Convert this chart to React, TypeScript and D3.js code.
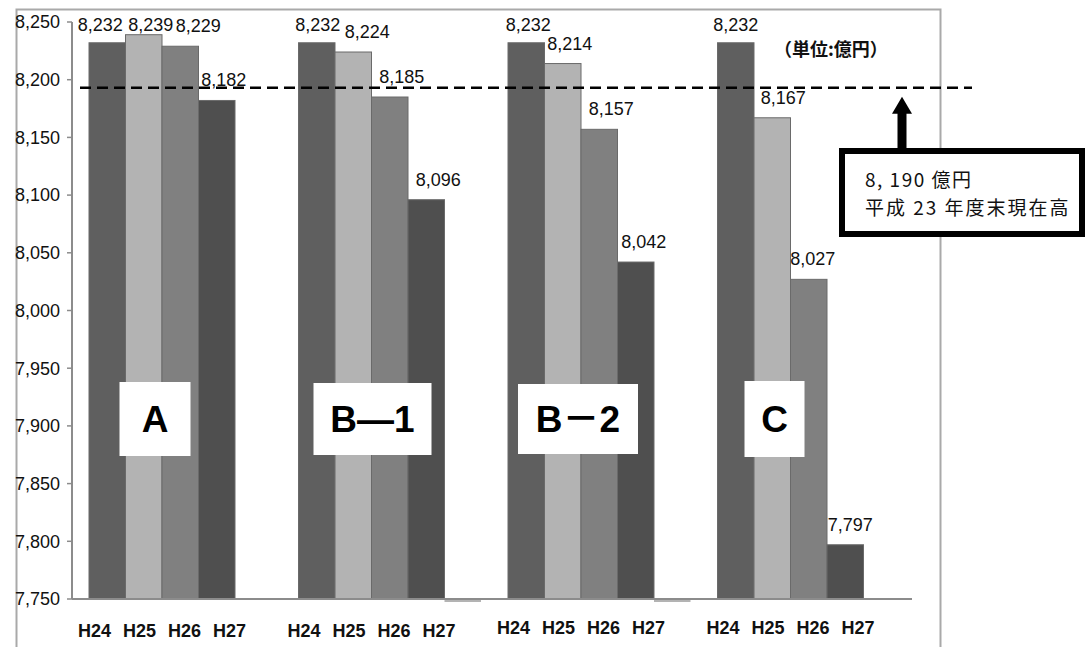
import * as d3 from "d3";

// 財政シナリオ別の残高見込み（単位:億円）
const groups = ["A", "B—1", "B－2", "C"];
const years = ["H24", "H25", "H26", "H27"];
const valuesA = [8232, 8239, 8229, 8182];
const valuesB1 = [8232, 8224, 8185, 8096];
const valuesB2 = [8232, 8214, 8157, 8042];
const valuesC = [8232, 8167, 8027, 7797];
const seriesByGroup = [valuesA, valuesB1, valuesB2, valuesC];
// the empty fifth slot shows as a thin line under the axis in B-1 and B-2
const emptySlot = [false, true, true, false];

const refLabel1 = "8, 190 億円";
const refLabel2 = "平成 23 年度末現在高";
const refLineValue = 8193; // where the dashed line is drawn
const unitLabel = "（単位:億円）";

// layout only
const barColors = ["#5f5f5f", "#b3b3b3", "#808080", "#4f4f4f"];
const labelDx = [
  [-7, 7, 18, 7],
  [1, 14, 12, 12],
  [2, 7, 12, 8],
  [0, 11, 4, 5],
];
const groupBoxes = [
  { dx: -7, w: 71, h: 74 },
  { dx: 1, w: 118, h: 72 },
  { dx: -3, w: 120, h: 70 },
  { dx: -16, w: 60, h: 76 },
];

const W = 1088;
const H = 647;
const left = 72;
const right = 910;
const top = 22;
const bottom = 599;

const numFont = "'Liberation Sans Narrow', 'Arial Narrow', 'Liberation Sans', Arial, sans-serif";
const sansFont = "'Liberation Sans', Arial, Helvetica, sans-serif";
const labelFont = "'Liberation Sans', 'Noto Sans CJK JP', sans-serif";
const cjkFont = "'Noto Sans CJK JP', 'Noto Sans CJK SC', sans-serif";

export default function App() {
  const y = d3.scaleLinear().domain([7750, 8250]).range([bottom, top]);
  const x0 = d3.scaleBand<string>().domain(groups).range([left, right]);
  const x1 = d3
    .scaleBand<string>()
    .domain([...years, ""])
    .range([17, 17 + 5 * 36.5]);
  const fmt = d3.format(",");
  const ticks = y.ticks(10);
  const yRef = y(refLineValue);

  return (
    <svg
      width={W}
      height={H}
      style={{ position: "absolute", left: 0, top: 0, background: "#fff" }}
    >
      {/* outer frame */}
      <rect x={16.5} y={9.5} width={924} height={700} fill="none" stroke="#a9a9a9" strokeWidth={2} />

      {/* y axis */}
      <line x1={left} x2={left} y1={top} y2={bottom} stroke="#8c8c8c" strokeWidth={2} />
      {ticks.map((t) => (
        <g key={t}>
          <line x1={left - 5} x2={left} y1={y(t)} y2={y(t)} stroke="#8c8c8c" strokeWidth={1.5} />
          <text
            x={60}
            y={y(t)}
            dy="0.35em"
            textAnchor="end"
            fontFamily={numFont}
            fontSize={18}
            fill="#111"
          >
            {fmt(t)}
          </text>
        </g>
      ))}

      {/* bars */}
      {groups.map((g, gi) => {
        const gx = x0(g)!;
        const vals = seriesByGroup[gi];
        const barsLeft = gx + x1(years[0])!;
        const barsRight = gx + x1(years[3])! + x1.bandwidth();
        const mid = (barsLeft + barsRight) / 2;
        const box = groupBoxes[gi];
        return (
          <g key={g}>
            {vals.map((v, i) => (
              <rect
                key={i}
                x={gx + x1(years[i])!}
                y={y(v)}
                width={x1.bandwidth()}
                height={bottom - y(v)}
                fill={barColors[i]}
                stroke="#6a6a6a"
                strokeWidth={1}
              />
            ))}
            {emptySlot[gi] && (
              <line
                x1={gx + x1("")!}
                x2={gx + x1("")! + x1.bandwidth()}
                y1={bottom + 2}
                y2={bottom + 2}
                stroke="#9a9a9a"
                strokeWidth={1.5}
              />
            )}
            {vals.map((v, i) => (
              <text
                key={"l" + i}
                x={gx + x1(years[i])! + x1.bandwidth() / 2 + labelDx[gi][i]}
                y={Math.max(y(v) - 14, 31)}
                textAnchor="middle"
                fontFamily={numFont}
                fontSize={18}
                fill="#111"
              >
                {fmt(v)}
              </text>
            ))}
            {/* group name box */}
            <rect
              x={mid + box.dx - box.w / 2}
              y={419 - box.h / 2}
              width={box.w}
              height={box.h}
              fill="#fff"
            />
            <text
              x={mid + box.dx}
              y={419}
              dy="0.36em"
              textAnchor="middle"
              fontFamily={labelFont}
              fontWeight="bold"
              fontSize={37}
              fill="#000"
            >
              {g}
            </text>
            {/* year labels */}
            {years.map((yr, i) => (
              <text
                key={yr}
                x={mid + (i - 1.5) * 45}
                y={637 - (gi >= 2 ? 3 : 0)}
                textAnchor="middle"
                fontFamily={sansFont}
                fontWeight="bold"
                fontSize={18}
                fill="#111"
              >
                {yr}
              </text>
            ))}
          </g>
        );
      })}

      {/* x axis */}
      <line x1={left} x2={right + 2} y1={bottom} y2={bottom} stroke="#8c8c8c" strokeWidth={2} />

      {/* reference line */}
      <line
        x1={80}
        x2={972}
        y1={yRef}
        y2={yRef}
        stroke="#000"
        strokeWidth={2.5}
        strokeDasharray="11 6"
      />
      <text x={774} y={50} dy="0.35em" fontFamily={cjkFont} fontWeight="bold" fontSize={18} fill="#111">
        {unitLabel}
      </text>

      {/* arrow */}
      <rect x={897.5} y={yRef + 24} width={9} height={148 - yRef - 24} fill="#000" />
      <path
        d={`M${902},${yRef + 9} L${912},${yRef + 26} L${892},${yRef + 26} Z`}
        fill="#000"
      />

      {/* note box */}
      <rect x={842} y={151} width={240} height={83} fill="#fff" stroke="#000" strokeWidth={6} />
      <text x={865} y={187} fontFamily={cjkFont} fontSize={19} letterSpacing={1.5} fill="#111">
        {refLabel1}
      </text>
      <text x={865} y={215} fontFamily={cjkFont} fontSize={19} letterSpacing={2} fill="#111">
        {refLabel2}
      </text>
    </svg>
  );
}
